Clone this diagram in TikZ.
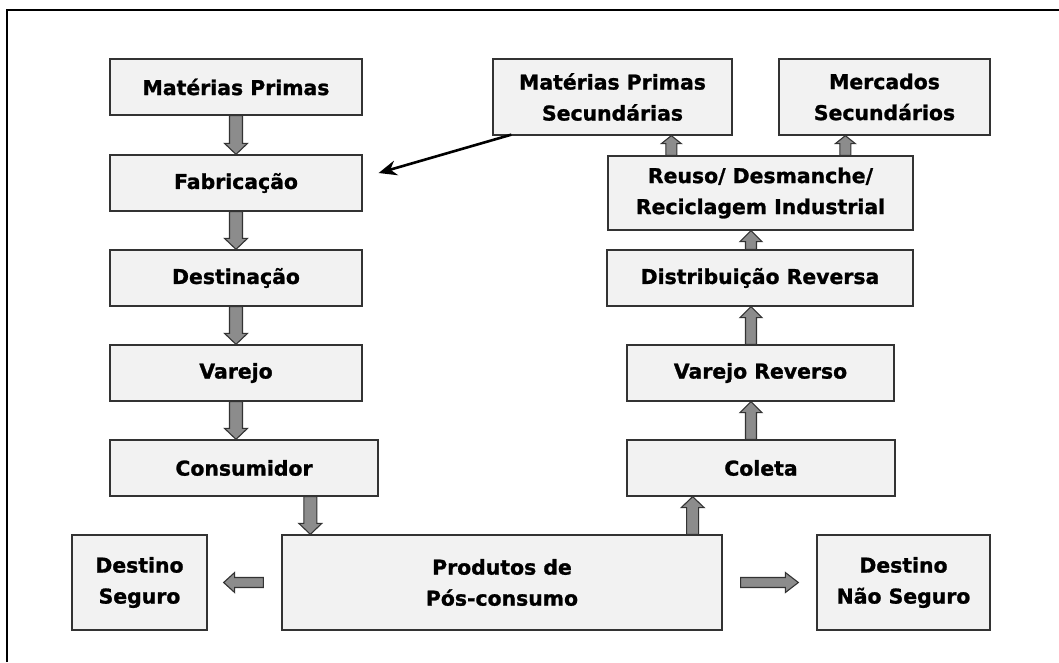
\documentclass[tikz,border=0pt]{standalone}
\usepackage{fontspec}
\setmainfont{DejaVu Sans}[BoldFeatures={FakeBold=1.2}]
\usetikzlibrary{calc,arrows.meta}
\tikzset{
 box/.style={draw=black!80, line width=1.3pt, fill=black!5, align=center, inner sep=0pt,
   font=\bfseries\fontsize{20.4}{31}\selectfont},
 barrowstyle/.style={draw=black!80, fill=black!45, line width=1.1pt, line join=miter},
 thinarrow/.style={draw=black, line width=2.6pt, -{Stealth[length=18pt,width=15pt]}},
 frameline/.style={draw=black, line width=2.2pt}
}
\newcommand\blockarrow[5]{%
 \coordinate (ba-h) at ($(#2)!#5!(#1)$);
 \draw[barrowstyle] ($(#1)!#3!90:(#2)$) -- ($(ba-h)!#3!90:(#2)$) -- ($(ba-h)!#4!90:(#2)$) -- (#2)
   -- ($(ba-h)!#4!-90:(#2)$) -- ($(ba-h)!#3!-90:(#2)$) -- ($(#1)!#3!-90:(#2)$) -- cycle;}
\begin{document}
\begin{tikzpicture}[x=1pt,y=-1pt]
\useasboundingbox (0,0) rectangle (1059,662);
\draw[frameline] (7,662) -- (7,10) -- (1059,10);

% left column
\node[box, minimum width=252, minimum height=56] (mp) at (236,87) {Matérias Primas};
\node[box, minimum width=252, minimum height=56] (fab) at (236,183) {Fabricação};
\node[box, minimum width=252, minimum height=56] (dest) at (236,278) {Destinação};
\node[box, minimum width=252, minimum height=56] (var) at (236,373) {Varejo};
\node[box, minimum width=268, minimum height=56] (cons) at (244,468) {Consumidor};

% bottom row
\node[box, minimum width=440, minimum height=95] (prod) at (502,582.5) {Produtos de\\Pós-consumo};
\node[box, minimum width=135, minimum height=95] (ds) at (139.5,582.5) {Destino\\Seguro};
\node[box, minimum width=173, minimum height=95] (dns) at (903.5,582.5) {Destino\\Não Seguro};

% right column
\node[box, minimum width=268, minimum height=56] (col) at (761,468) {Coleta};
\node[box, minimum width=267, minimum height=56] (vr) at (760.5,373) {Varejo Reverso};
\node[box, minimum width=306, minimum height=56] (dr) at (760,278) {Distribuição Reversa};
\node[box, minimum width=305, minimum height=74] (reu) at (760.5,193) {Reuso/ Desmanche/\\Reciclagem Industrial};
\node[box, minimum width=239, minimum height=76] (mps) at (612.5,97) {Matérias Primas\\Secundárias};
\node[box, minimum width=211, minimum height=76] (ms) at (884.5,97) {Mercados\\Secundários};

% left column arrows
\blockarrow{mp.south}{fab.north}{6.5pt}{11.5pt}{11pt}
\blockarrow{fab.south}{dest.north}{6.5pt}{11.5pt}{11pt}
\blockarrow{dest.south}{var.north}{6.5pt}{11.5pt}{11pt}
\coordinate (v2) at (var.south |- cons.north);
\blockarrow{var.south}{v2}{6.5pt}{11.5pt}{11pt}

\coordinate (c1) at ($(cons.south west)+(201,0)$);
\coordinate (c2) at (c1 |- prod.north);
\blockarrow{c1}{c2}{6.5pt}{11.5pt}{11pt}

% up arrows
\coordinate (p1) at ($(prod.north east)+(-30,0)$);
\coordinate (p2) at (p1 |- col.south);
\blockarrow{p1}{p2}{6pt}{11.5pt}{11pt}

\coordinate (r1) at ($(col.north)+(-10,0)$);
\coordinate (r2) at (r1 |- vr.south);
\blockarrow{r1}{r2}{5.5pt}{11pt}{11pt}
\coordinate (r3) at (r1 |- vr.north);
\coordinate (r4) at (r1 |- dr.south);
\blockarrow{r3}{r4}{5.5pt}{11pt}{11pt}
\coordinate (r5) at (r1 |- dr.north);
\coordinate (r6) at (r1 |- reu.south);
\blockarrow{r5}{r6}{5.5pt}{11pt}{11pt}

\coordinate (u1) at ($(reu.north west)+(64,0)$);
\coordinate (u2) at (u1 |- mps.south);
\blockarrow{u1}{u2}{5.5pt}{10pt}{8pt}
\coordinate (u3) at ($(reu.north west)+(238,0)$);
\coordinate (u4) at (u3 |- ms.south);
\blockarrow{u3}{u4}{5.5pt}{10pt}{8pt}

% horizontal arrows
\coordinate (h1) at ($(prod.west)+(-18,0)$);
\coordinate (h2) at ($(ds.east)+(16,0)$);
\blockarrow{h1}{h2}{5pt}{10pt}{11pt}
\coordinate (h3) at ($(prod.east)+(18,0)$);
\coordinate (h4) at ($(dns.west)+(-18,0)$);
\blockarrow{h3}{h4}{5pt}{10pt}{13pt}

% thin arrow
\coordinate (ta-s) at ($(mps.south west)+(19,-1)$);
\coordinate (ta-e) at ($(fab.east)+(16,-10)$);
\draw[thinarrow] (ta-s) -- (ta-e);
\end{tikzpicture}
\end{document}
